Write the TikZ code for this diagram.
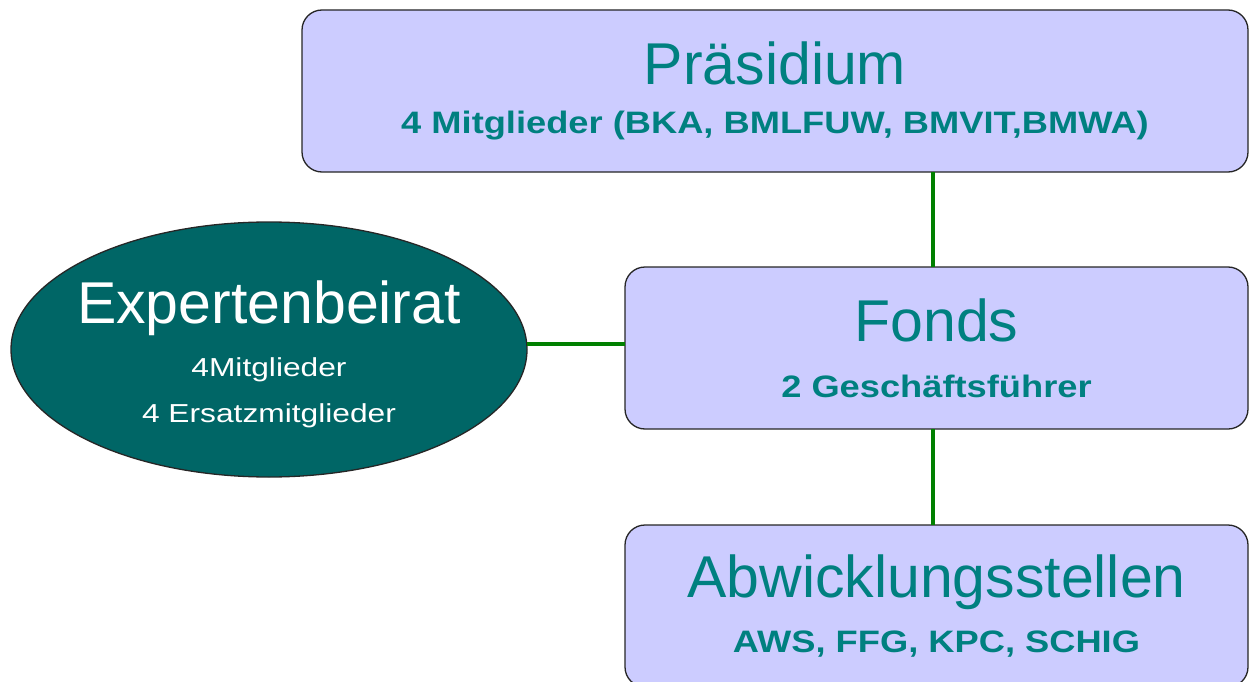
\documentclass[tikz,border=0pt]{standalone}
\usepackage{fontspec}
\setmainfont{Liberation Sans}
\newfontfamily\breit[FakeStretch=1.17]{Liberation Sans}
\newfontfamily\breiter[FakeStretch=1.22]{Liberation Sans}
\usetikzlibrary{shapes.geometric}
\definecolor{boxfill}{HTML}{CCCCFF}
\definecolor{boxtext}{HTML}{008080}
\definecolor{beirat}{HTML}{006666}
\definecolor{linie}{HTML}{008000}

\begin{document}
\begin{tikzpicture}[x=1pt,y=-1pt,
   box/.style={draw=black!85,line width=1.3pt,fill=boxfill,rounded corners=20pt,
     minimum width=623pt,minimum height=162pt,inner sep=0pt,outer sep=0pt,
     align=center,text=boxtext},
   oval/.style={ellipse,draw=black!85,line width=1.3pt,fill=beirat,
     minimum width=516pt,minimum height=255pt,inner xsep=-20pt,inner ysep=0pt,outer sep=0pt,
     align=center,text=white},
   verb/.style={draw=linie,line width=3.5pt}]
   \useasboundingbox (0,0) rectangle (1250,682);

   \node[box,minimum width=946pt,font=\fontsize{31}{49}\selectfont] (pr) at (775,91)
     {{\fontsize{59}{49}\selectfont Präsidium}\\ {\breit\bfseries 4 Mitglieder (BKA, BMLFUW, BMVIT,BMWA)}};
   \node[box,font=\fontsize{31}{56}\selectfont] (fo) at (936.5,348)
     {{\fontsize{59}{56}\selectfont Fonds}\\ {\breit\bfseries 2 Geschäftsführer}};
   \node[box,font=\fontsize{31}{55}\selectfont] (ab) at (936.5,606)
     {{\fontsize{59}{55}\selectfont Abwicklungsstellen}\\ {\breit\bfseries AWS, FFG, KPC, SCHIG}};
   \node[oval,font=\fontsize{26}{46}\selectfont] (ex) at (269,349.5)
     {{\fontsize{59}{46}\selectfont\rule{0pt}{52pt}Expertenbeirat}\\[7pt]
      {\breiter 4Mitglieder}\\ {\breiter 4 Ersatzmitglieder}};

   \draw[verb] ([xshift=-3.5pt]fo.north) -- ([xshift=-3.5pt]fo.north |- pr.south);
   \draw[verb] ([xshift=-3.5pt]fo.south) -- ([xshift=-3.5pt]ab.north);
   \draw[verb] ([yshift=5.5pt]ex.east) -- ([yshift=5.5pt]fo.west |- ex.east);
\end{tikzpicture}
\end{document}
